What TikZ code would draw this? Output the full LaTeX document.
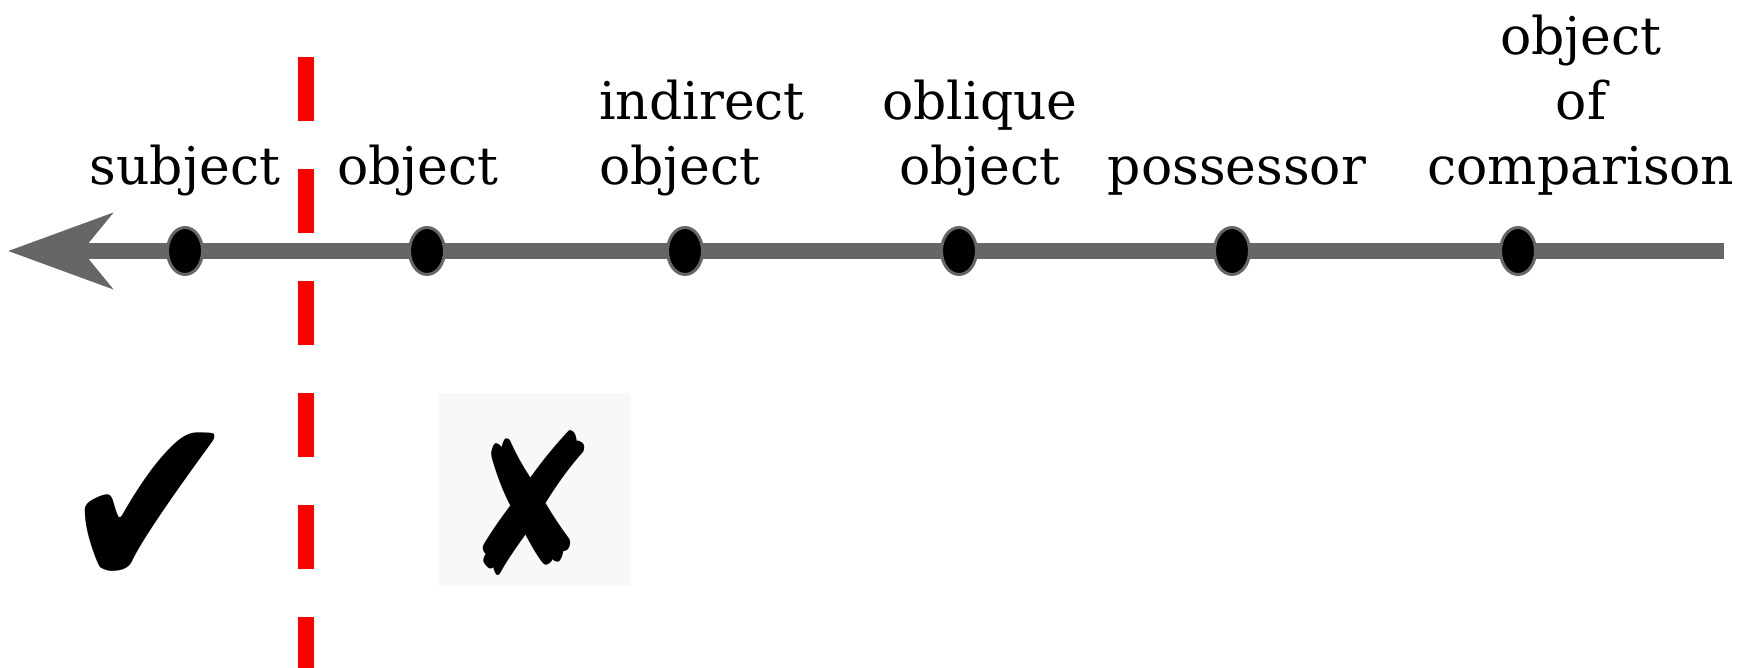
\documentclass[tikz,border=0pt]{standalone}
\usepackage{fontspec}
\setmainfont{DejaVu Serif}
\newfontfamily\symfont{DejaVu Sans}
\usepackage{tikz}
\usetikzlibrary{positioning,shapes.geometric,arrows.meta}
\definecolor{axisgrey}{HTML}{666666}
\definecolor{boxgrey}{HTML}{F8F8F8}
\tikzset{axis/.style={line width=16pt, draw=axisgrey, -{Stealth[length=104pt, width=75pt, inset=30pt]}},
         dot/.style={ellipse, fill=black, draw=axisgrey, line width=3pt, minimum width=35pt, minimum height=47pt, inner sep=0pt},
         lbl/.style={anchor=south, align=center, inner sep=0pt, text depth=0pt, font=\fontsize{52}{65}\selectfont},
         cut/.style={line width=16pt, draw=red, dash pattern=on 64pt off 48pt},
         tick/.style={font=\symfont\fontsize{214}{214}\selectfont, inner sep=0pt}
}
\begin{document}
\begin{tikzpicture}[x=1pt,y=-1pt]
    \useasboundingbox (0,0) rectangle (1759,668);

    \coordinate (rt) at (1724,251);
    \coordinate (lt) at (8,251);
    \draw[axis] (rt) -- (lt);

    \node[dot] (sub)  at (185,251)  {};
    \node[dot] (obj)  at (427,251)  {};
    \node[dot] (ind)  at (685,251)  {};
    \node[dot] (obl)  at (959,251)  {};
    \node[dot] (pos)  at (1232,251) {};
    \node[dot] (cmp)  at (1518,251) {};

    \node[lbl] (subL) at (185,185)  {subject};
    \node[lbl] (objL) at (418,185)  {object};
    \node[lbl, align=left] (indL) at (702,185)  {indirect\\object};
    \node[lbl] (oblL) at (980,185)  {oblique\\object};
    \node[lbl] (posL) at (1237,185) {possessor};
    \node[lbl] (cmpL) at (1581,185) {object\\of\\comparison};

    % boundary
    \coordinate (cutT) at (306,57);
    \coordinate (cutB) at (306,668);
    \draw[cut] (cutT) -- (cutB);

    \fill[boxgrey] (438,393) rectangle (630,586);
    \node[tick, yscale=1.19] (yes) at (150,513) {✔};
    \node[tick, font=\symfont\fontsize{196}{196}\selectfont, xscale=0.82] (no) at (531,503) {✘};
\end{tikzpicture}
\end{document}
